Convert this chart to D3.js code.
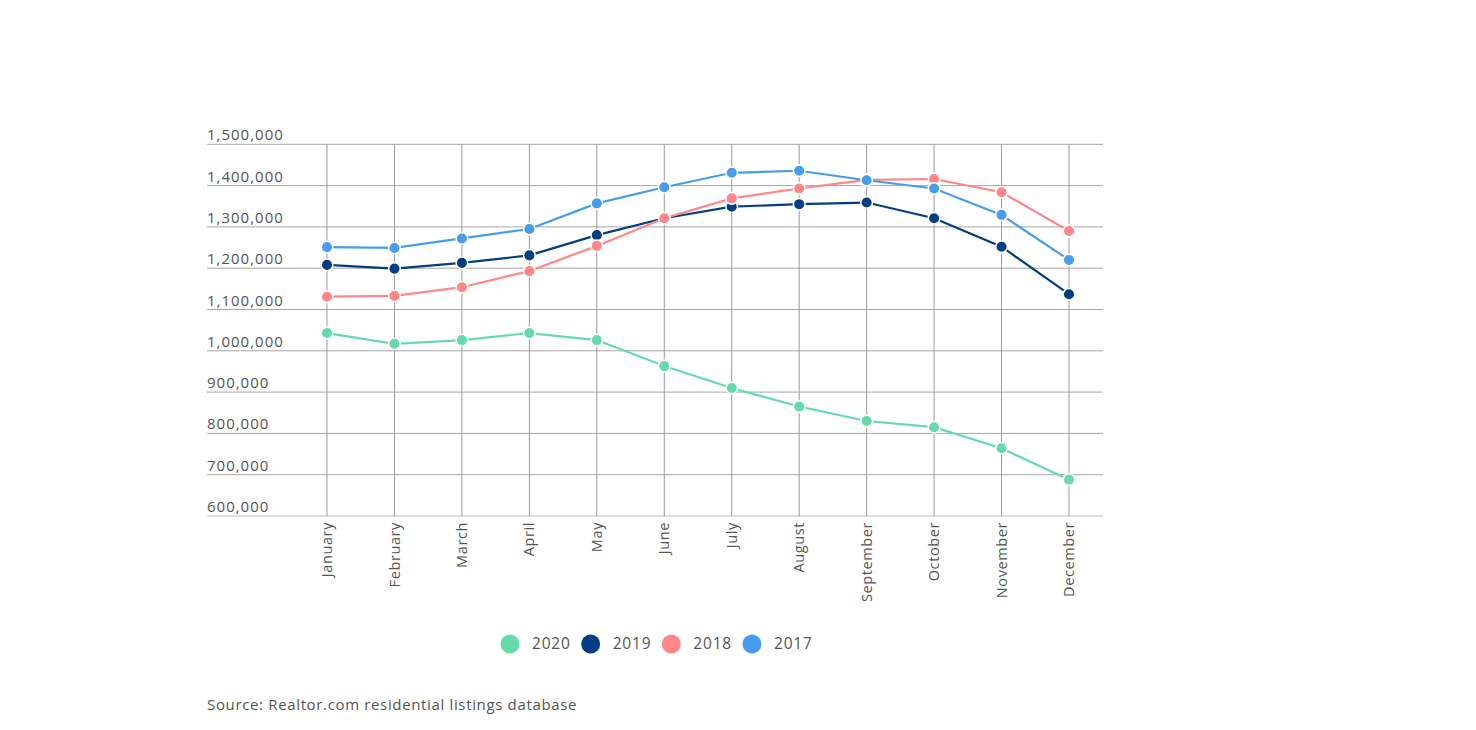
<!DOCTYPE html>
<html>
<head>
<meta charset="utf-8">
<script src="https://cdn.jsdelivr.net/npm/d3@7"></script>
<style>
  html, body { margin: 0; padding: 0; background: #fff; }
  svg { display: block; }
  text { font-family: "Open Sans", sans-serif; fill: #555; }
</style>
</head>
<body>
<svg id="chart" width="1476" height="730"></svg>
<script>
const months = ["January","February","March","April","May","June","July","August","September","October","November","December"];
const yTicks = [600000,700000,800000,900000,1000000,1100000,1200000,1300000,1400000,1500000];
const seriesNames = ["2020","2019","2018","2017"];
const seriesColors = ["#63dbaa","#023e84","#ff8787","#479ded"];
const v2020 = [1043000,1017000,1026000,1043000,1026000,963000,910000,865000,830000,815000,764000,688000];
const v2019 = [1208000,1199000,1213000,1231000,1280000,1321000,1349000,1355000,1359000,1321000,1252000,1137000];
const v2018 = [1131000,1133000,1154000,1193000,1254000,1321000,1369000,1393000,1414000,1416000,1384000,1290000];
const v2017 = [1251000,1249000,1272000,1295000,1357000,1396000,1431000,1436000,1413000,1393000,1329000,1220000];
const sourceText = "Source: Realtor.com residential listings database";

(function () {
const series = [v2020, v2019, v2018, v2017].map((vals, i) => ({ name: seriesNames[i], color: seriesColors[i], values: vals }));

const svg = d3.select("#chart");
const gridLeft = 207, gridRight = 1103, plotTop = 144.3, plotBottom = 516;

const x = d3.scalePoint().domain(months).range([327, 1069]);
const y = d3.scaleLinear().domain([600000, 1500000]).range([plotBottom, plotTop]);
const fmt = d3.format(",");

// horizontal grid
const hg = svg.append("g");
hg.selectAll("line").data(yTicks).join("line")
  .attr("x1", gridLeft).attr("x2", gridRight)
  .attr("y1", d => y(d)).attr("y2", d => y(d))
  .attr("stroke", d => d === 600000 ? "#bdbdbd" : "#a6a6a6").attr("stroke-width", 1);
hg.selectAll("text").data(yTicks).join("text")
  .attr("x", gridLeft).attr("y", d => y(d) - 4)
  .attr("font-size", 15).attr("letter-spacing", 1.0)
  .text(d => fmt(d));

// vertical grid
const vg = svg.append("g");
vg.selectAll("line").data(months).join("line")
  .attr("x1", d => x(d)).attr("x2", d => x(d))
  .attr("y1", plotTop).attr("y2", plotBottom)
  .attr("stroke", "#9a9a9a").attr("stroke-width", 1);
vg.selectAll("text").data(months).join("text")
  .attr("transform", d => `translate(${x(d)},522) rotate(-90)`)
  .attr("text-anchor", "end").attr("dy", "0.35em")
  .attr("font-size", 14.5).attr("letter-spacing", 0.6)
  .text(d => d);

// lines
const line = d3.line().x((d, i) => x(months[i])).y(d => y(d));
const sg = svg.append("g");
series.forEach(s => {
  const g = sg.append("g");
  g.append("path").datum(s.values)
    .attr("d", line).attr("fill", "none")
    .attr("stroke", s.color).attr("stroke-width", 2.2);
  g.selectAll("circle").data(s.values).join("circle")
    .attr("cx", (d, i) => x(months[i])).attr("cy", d => y(d))
    .attr("r", 5.8).attr("fill", s.color)
    .attr("stroke", "#fff").attr("stroke-width", 1.5);
});

// legend
const lg = svg.append("g");
let lx = 510;
series.forEach(s => {
  lg.append("circle").attr("cx", lx).attr("cy", 644).attr("r", 9.5).attr("fill", s.color);
  const t = lg.append("text").attr("x", lx + 22).attr("y", 644).attr("dy", "0.35em")
    .attr("font-size", 15.5).attr("letter-spacing", 0.8).text(s.name);
  lx += 22 + t.node().getComputedTextLength() + 20;
});

// source
svg.append("text").attr("x", 207).attr("y", 710)
  .attr("font-size", 15).attr("letter-spacing", 0.65)
  .text(sourceText);
})();
</script>
</body>
</html>
